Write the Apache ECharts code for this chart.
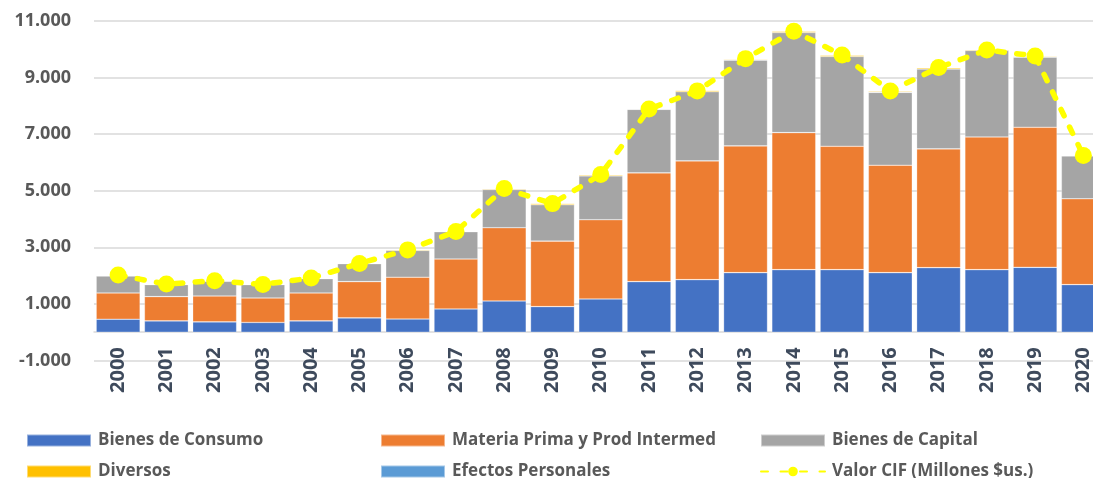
<!DOCTYPE html>
<html>
<head>
<meta charset="utf-8">
<script src="https://cdn.jsdelivr.net/npm/echarts@6/dist/echarts.min.js"></script>
<style>html,body{margin:0;padding:0;background:#fff}#c{width:1093px;height:478px}</style>
</head>
<body>
<div id="c"></div>
<script>
const years = ['2000','2001','2002','2003','2004','2005','2006','2007','2008','2009','2010','2011','2012','2013','2014','2015','2016','2017','2018','2019','2020'];
const bienesConsumo = [460,400,365,345,400,505,465,822,1104,905,1175,1788,1858,2105,2211,2211,2105,2282,2211,2293,1682];
const materiaPrima = [927,858,915,865,987,1283,1480,1764,2589,2316,2800,3845,4198,4480,4844,4361,3797,4198,4691,4950,3034];
const bienesCapital = [600,424,519,472,506,634,945,965,1351,1283,1552,2244,2445,3033,3538,3175,2575,2821,3056,2481,1516];
const diversos = [15,15,15,15,15,20,25,15,25,45,40,25,45,35,45,45,40,45,30,35,15];
const efectosPersonales = [3,3,3,3,3,3,3,3,3,3,3,3,3,3,3,3,3,3,3,3,3];
const valorCIF = [2020,1700,1820,1690,1915,2430,2910,3560,5080,4545,5575,7890,8530,9670,10640,9795,8525,9355,9975,9765,6245];
const yTicks = [-1000,1000,3000,5000,7000,9000,11000];

const FONT = '"Open Sans"';
function fmt(v){
  const s = Math.abs(v).toString().replace(/\B(?=(\d{3})+(?!\d))/g,'.');
  return (v<0?'-':'') + s;
}
const names = ['Bienes de Consumo','Materia Prima y Prod Intermed','Bienes de Capital','Diversos','Efectos Personales','Valor CIF (Millones $us.)'];
const colors = ['#4472C4','#ED7D31','#A5A5A5','#FFC000','#5B9BD5','#FFFF00'];
const barData = [bienesConsumo, materiaPrima, bienesCapital, diversos, efectosPersonales];

const legendPos = [[26,432],[380,432],[760,432],[26,463],[380,463],[760,463]];
const legends = names.map((n,i)=>({
  data:[n], left: legendPos[i][0], top: legendPos[i][1], padding:0,
  itemWidth: 64, itemHeight: 12, selectedMode:false, itemGap:0,
  icon: i<5 ? 'rect' : undefined,
  textStyle:{fontFamily:FONT, fontWeight:'bold', fontSize:17, color:'#595959', padding:[0,0,0,2]}
}));

const series = barData.map((d,i)=>({
  name:names[i], type:'bar', stack:'total', data:d,
  barCategoryGap:'9%',
  itemStyle:{color:colors[i], borderColor:'rgba(255,255,255,0.45)', borderWidth:0.6},
  emphasis:{disabled:true}
}));
series.push({
  name:names[5], type:'line', data:valorCIF, z:10,
  symbol:'circle', symbolSize:17,
  itemStyle:{color:'#FFFF00'},
  lineStyle:{color:'#FFFF00', width:5.5, type:[7,12.5], cap:'round'},
  emphasis:{disabled:true}
});

const chart = echarts.init(document.getElementById('c'), null, {renderer:'canvas'});
chart.setOption({
  animation:false,
  legend: legends,
  grid:{left:94, width:1013.5, top:21, height:339.5, containLabel:false, outerBoundsMode:'none'},
  xAxis:{
    type:'category', data:years,
    offset:-28.3,
    axisLine:{show:true, onZero:false, lineStyle:{color:'#D9D9D9', width:1.5}},
    axisTick:{show:false},
    axisLabel:{rotate:90, margin:15, fontFamily:FONT, fontWeight:'bold', fontSize:20, color:'#3E4A5C', interval:0}
  },
  yAxis:{
    type:'value', min:-1000, max:11000, interval:2000,
    axisLine:{show:false}, axisTick:{show:false},
    splitLine:{lineStyle:{color:'#D9D9D9', width:1.5}},
    axisLabel:{formatter:v=>fmt(v), margin:23, fontFamily:FONT, fontWeight:'bold', fontSize:18, color:'#595959'}
  },
  series: series
});
</script>
</body>
</html>
